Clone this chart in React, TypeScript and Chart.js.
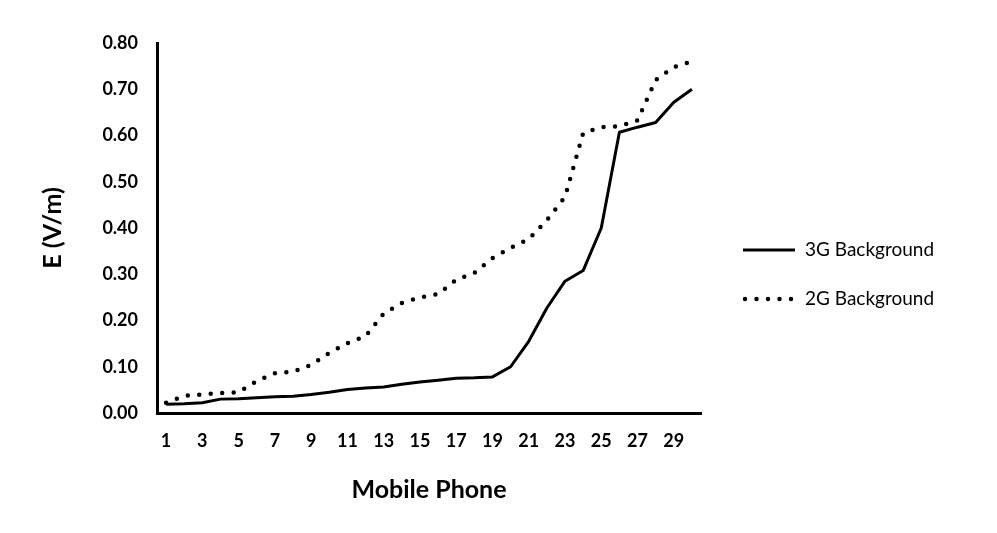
import React, { useEffect, useRef } from "react";
import { Chart, registerables } from "chart.js";

Chart.register(...registerables);

const categories = ["1","2","3","4","5","6","7","8","9","10","11","12","13","14","15","16","17","18","19","20","21","22","23","24","25","26","27","28","29","30"];
const threeG = [0.019, 0.020, 0.022, 0.030, 0.031, 0.033, 0.035, 0.036, 0.040, 0.045, 0.051, 0.054, 0.056, 0.062, 0.067, 0.071, 0.075, 0.076, 0.078, 0.100, 0.155, 0.227, 0.285, 0.308, 0.400, 0.607, 0.618, 0.628, 0.672, 0.700];
const twoG = [0.022, 0.037, 0.040, 0.043, 0.045, 0.069, 0.086, 0.089, 0.104, 0.130, 0.151, 0.166, 0.215, 0.238, 0.250, 0.257, 0.288, 0.303, 0.335, 0.357, 0.376, 0.417, 0.467, 0.605, 0.618, 0.620, 0.633, 0.720, 0.748, 0.760];
const seriesLabels = ["3G Background", "2G Background"];
const yTicks = [0, 0.1, 0.2, 0.3, 0.4, 0.5, 0.6, 0.7, 0.8];

const FONT = "Lato, 'Open Sans', sans-serif";

const legendPlugin = {
  id: "sideLegend",
  afterDraw(chart: any) {
    const ctx = chart.ctx;
    const x0 = 743, x1 = 795, tx = 805;
    const ys = [250, 299];
    chart.data.datasets.forEach((ds: any, i: number) => {
      const y = ys[i];
      ctx.save();
      ctx.strokeStyle = ds.borderColor;
      ctx.lineWidth = ds.borderWidth;
      ctx.lineCap = ds.borderCapStyle || "butt";
      ctx.setLineDash(ds.borderDash || []);
      ctx.beginPath();
      ctx.moveTo(x0 + (ds.borderDash ? 2 : 0), y);
      ctx.lineTo(x1, y);
      ctx.stroke();
      ctx.setLineDash([]);
      ctx.fillStyle = "#000";
      ctx.font = `19px ${FONT}`;
      ctx.textBaseline = "middle";
      ctx.textAlign = "left";
      ctx.fillText(ds.label, tx, y);
      ctx.restore();
    });
  },
};

export default function App() {
  const ref = useRef<HTMLCanvasElement | null>(null);
  useEffect(() => {
    document.body.style.margin = "0";
    const canvas = ref.current!;
    const chart = new Chart(canvas, {
      type: "line",
      data: {
        labels: categories,
        datasets: [
          {
            label: seriesLabels[0],
            data: threeG,
            borderColor: "#000",
            borderWidth: 3,
            pointRadius: 0,
            tension: 0,
            borderJoinStyle: "round",
            fill: false,
          },
          {
            label: seriesLabels[1],
            data: twoG,
            borderColor: "#000",
            borderWidth: 4.5,
            borderDash: [0, 11.5],
            borderCapStyle: "round",
            pointRadius: 0,
            tension: 0,
            fill: false,
          } as any,
        ],
      },
      options: {
        animation: false,
        responsive: false,
        events: [],
        layout: { padding: { left: 38, right: 296, top: 43, bottom: 0 } },
        plugins: { legend: { display: false }, tooltip: { enabled: false } },
        scales: {
          x: {
            offset: true,
            grid: { display: true, drawOnChartArea: false, drawTicks: false },
            border: { display: true, width: 3, color: "#000" },
            ticks: {
              autoSkip: false,
              maxRotation: 0,
              padding: 17,
              color: "#000",
              font: { family: FONT, size: 18, weight: "bold" },
              callback: (_v: any, i: number) => (i % 2 === 0 ? categories[i] : ""),
            },
            title: {
              display: true,
              text: "Mobile Phone",
              color: "#000",
              font: { family: FONT, size: 25, weight: "bold" },
              padding: { top: 0, bottom: 28 },
            },
            afterFit: (s: any) => { s.height = 533 - 413; },
          },
          y: {
            min: yTicks[0],
            max: yTicks[yTicks.length - 1],
            grid: { display: true, drawOnChartArea: false, drawTicks: false },
            border: { display: true, width: 3, color: "#000" },
            afterBuildTicks: (s: any) => { s.ticks = yTicks.map((v) => ({ value: v })); },
            ticks: {
              padding: 19,
              color: "#000",
              font: { family: FONT, size: 18, weight: "bold" },
              callback: (v: any) => Number(v).toFixed(2),
            },
            title: {
              display: true,
              text: "E (V/m)",
              color: "#000",
              font: { family: FONT, size: 25, weight: "bold" },
              padding: { top: 0, bottom: 0 },
            },
            afterFit: (s: any) => { s.width = 157 - 38; },
          },
        },
      },
      plugins: [legendPlugin],
    });
    return () => chart.destroy();
  }, []);
  return (
    <div style={{ position: "absolute", left: 0, top: 0, width: 997, height: 533, background: "#fff" }}>
      <canvas ref={ref} width={997} height={533} style={{ width: 997, height: 533, display: "block" }} />
    </div>
  );
}
